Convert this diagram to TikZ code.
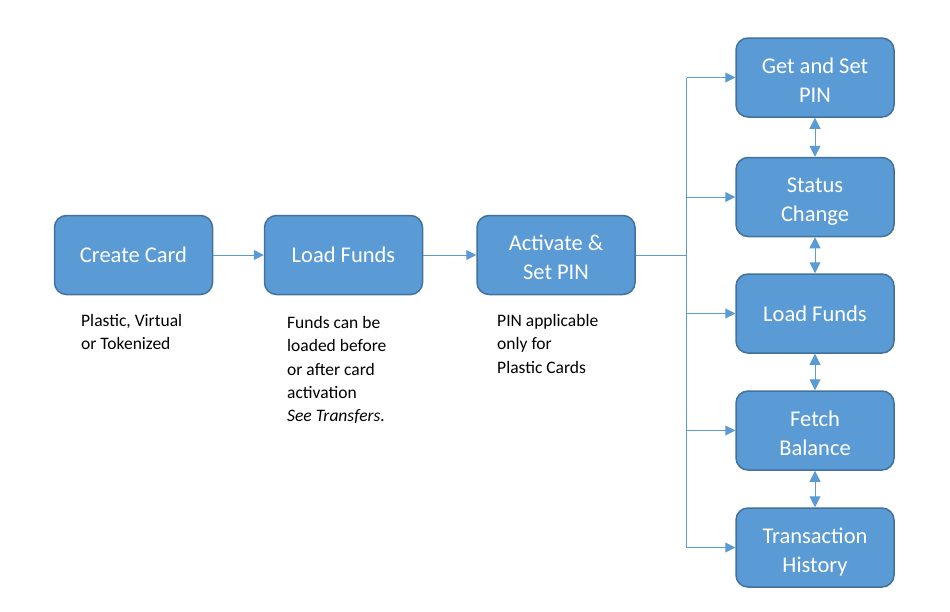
\documentclass[tikz,border=0pt]{standalone}
\usepackage{fontspec}
\setmainfont{Carlito}
\usetikzlibrary{arrows.meta}
\definecolor{boxfill}{HTML}{5B9BD5}
\definecolor{boxline}{HTML}{41719C}
\definecolor{conncol}{HTML}{5B9BD5}
\begin{document}
\begin{tikzpicture}[x=1pt,y=-1pt,
  card/.style={draw=boxline, line width=1.5pt, fill=boxfill, rounded corners=12pt,
    minimum width=158pt, minimum height=79pt, text=white, align=center, inner sep=0pt,
    font=\fontsize{22.5}{29}\selectfont},
  twoline/.style={text height=49.5pt, text depth=0pt},
  note/.style={anchor=north west, align=left, inner sep=0pt, font=\fontsize{17.5}{23.4}\selectfont},
  wire/.style={draw=conncol, line width=1pt},
  conn/.style={wire, -{Triangle[length=10pt,width=10pt]}},
  dbl/.style={wire, {Triangle[length=11pt,width=11pt]}-{Triangle[length=11pt,width=11pt]}}
]
\useasboundingbox (0,0) rectangle (950,611);
\node[card] (c1) at (133.5,255) {Create Card};
\node[card] (c2) at (343.5,255) {Load Funds};
\node[card,twoline] (c3) at (556,255) {Activate \&\\Set PIN};
\node[card,twoline] (r1) at (815,77.5) {Get and Set\\PIN};
\node[card,twoline] (r2) at (815,197) {Status\\Change};
\node[card] (r3) at (815,313.5) {Load Funds};
\node[card,twoline] (r4) at (815,430.5) {Fetch\\Balance};
\node[card,twoline] (r5) at (815,547.5) {Transaction\\History};

\node[note] (n1) at (81,314) {Plastic, Virtual\\or Tokenized};
\node[note] (n2) at (287,316) {Funds can be\\loaded before\\or after card\\activation\\\textit{See Transfers.}};
\node[note] (n3) at (497,314) {PIN applicable\\only for\\Plastic Cards};

\draw[conn] (c1) -- (c2);
\draw[conn] (c2) -- (c3);
\draw[wire] (c3.east) -- ++(51,0) coordinate (j);
\draw[wire] (j |- r1) -- (j |- r5);
\foreach \r in {r1,r2,r3,r4,r5} {\draw[conn] (j |- \r) -- (\r.west);}
\draw[dbl] (r1.south) -- (r2.north);
\draw[dbl] (r2.south) -- (r3.north);
\draw[dbl] (r3.south) -- (r4.north);
\draw[dbl] (r4.south) -- (r5.north);
\end{tikzpicture}
\end{document}
